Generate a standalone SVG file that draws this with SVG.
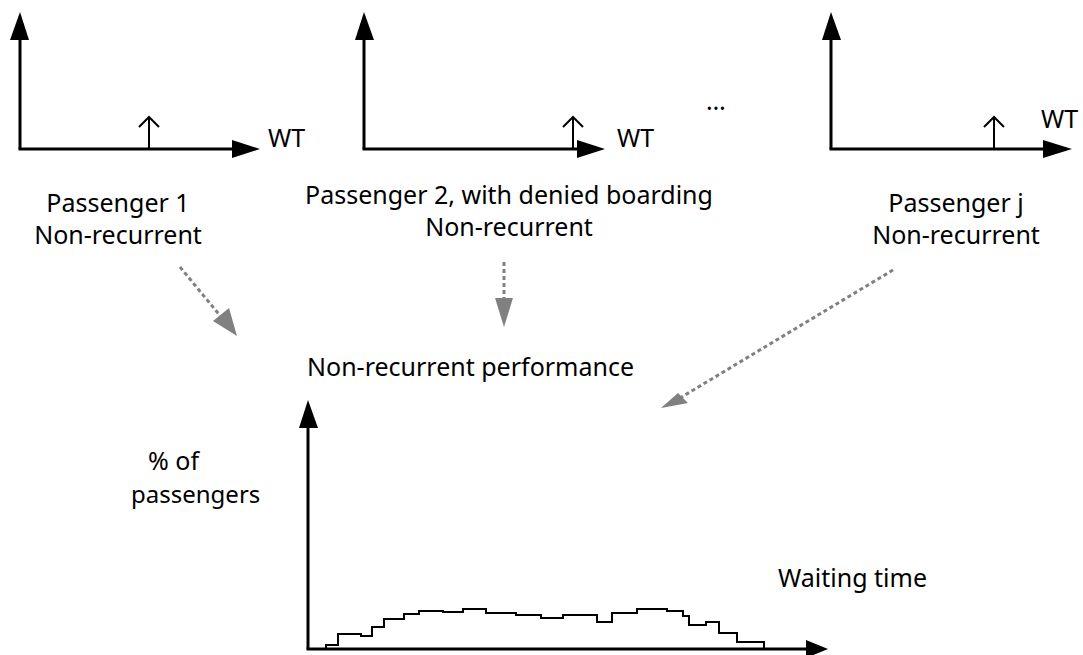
<svg xmlns="http://www.w3.org/2000/svg" width="1083" height="655" viewBox="0 0 1083 655">
  <style>
    .axis { stroke: #000; stroke-width: 3; fill: none; }
    .head { fill: #000; stroke: none; }
    .tick { stroke: #000; stroke-width: 2; fill: none; }
    .hist { stroke: #000; stroke-width: 2; fill: none; stroke-linejoin: miter; }
    .flow { stroke: #808080; stroke-width: 3; stroke-dasharray: 4 3; fill: none; }
    .flowhead { fill: #808080; stroke: none; }
    text { font-family: "Noto Sans", "Open Sans", sans-serif; font-size: 25px; fill: #000; }
    .c { text-anchor: middle; }
  </style>

  <!-- Passenger 1 -->
  <g id="passenger1">
    <line class="axis" x1="20" y1="149" x2="20" y2="36"/>
    <polygon class="head" points="20,12 10,40 29,40"/>
    <line class="axis" x1="18.5" y1="149" x2="236" y2="149"/>
    <polygon class="head" points="260,149 232,140 232,158"/>
    <path class="tick" d="M149,149 V118 M139,127 L149,117 L159,127"/>
    <text x="268" y="147">WT</text>
    <text class="c" x="118" y="212">Passenger 1</text>
    <text class="c" x="118" y="244">Non-recurrent</text>
  </g>

  <!-- Passenger 2 -->
  <g id="passenger2">
    <line class="axis" x1="364" y1="149" x2="364" y2="36"/>
    <polygon class="head" points="364,12 355,40 374,40"/>
    <line class="axis" x1="362.5" y1="149" x2="581" y2="149"/>
    <polygon class="head" points="605,149 577,140 577,158"/>
    <path class="tick" d="M573,149 V118 M563,127 L573,117 L583,127"/>
    <text x="617" y="147">WT</text>
    <text class="c" x="509" y="204">Passenger 2, with denied boarding</text>
    <text class="c" x="509" y="236">Non-recurrent</text>
  </g>

  <!-- ellipsis between passengers -->
  <g id="ellipsis">
    <text class="c" x="716" y="110">…</text>
  </g>

  <!-- Passenger j -->
  <g id="passengerj">
    <line class="axis" x1="831" y1="149" x2="831" y2="36"/>
    <polygon class="head" points="831,12 822,40 841,40"/>
    <line class="axis" x1="829.5" y1="149" x2="1047" y2="149"/>
    <polygon class="head" points="1072,149 1043,140 1043,158"/>
    <path class="tick" d="M994,149 V118 M984,127 L994,117 L1004,127"/>
    <text x="1041" y="128">WT</text>
    <text class="c" x="956" y="212">Passenger j</text>
    <text class="c" x="956" y="244">Non-recurrent</text>
  </g>

  <!-- aggregated distribution -->
  <g id="performance">
    <text x="307" y="376">Non-recurrent performance</text>
    <text x="148" y="470">% of</text>
    <text x="131" y="503" style="font-size:24px">passengers</text>
    <text x="778" y="587">Waiting time</text>
    <line class="axis" x1="308" y1="649" x2="308" y2="424"/>
    <polygon class="head" points="308,400 299,428 318,428"/>
    <line class="axis" x1="306.5" y1="649" x2="810" y2="649"/>
    <polygon class="head" points="828,649 806,640 806,658"/>
    <path class="hist" d="M326,649 V645 H338 V634 H361 V636 H372 V627 H384 V619 H404 V614 H419 V611 H443 V612 H463 V609 H486 V613 H516 V615 H541 V618 H563 V615 H597 V622 H612 V613 H637 V609 H667 V611 H683 V616 H689 V625 H706 V622 H719 V633 H737 V642 H764 V649"/>
  </g>

  <!-- contributions to the distribution -->
  <g id="connectors">
    <line class="flow" x1="180" y1="267" x2="222" y2="318"/>
    <polygon class="flowhead" points="237,336 213,321 229,308"/>
    <line class="flow" x1="504" y1="262" x2="504" y2="300"/>
    <polygon class="flowhead" points="504,327 495,298 513,298"/>
    <line class="flow" x1="893" y1="270" x2="680" y2="398"/>
    <polygon class="flowhead" points="661,408 678,393 688,403"/>
  </g>
</svg>
